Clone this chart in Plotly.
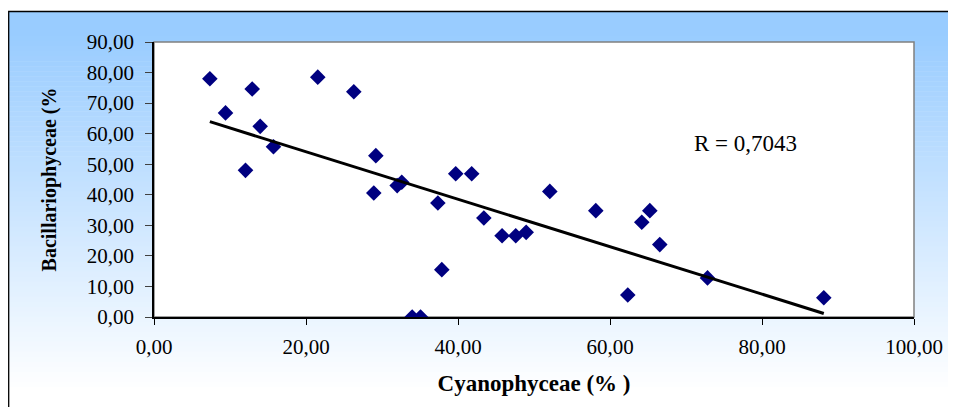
import numpy as np
import plotly.graph_objects as go

# ---- data ----
cyanophyceae = [7.35, 9.41, 12.92, 12.04, 13.97, 15.72, 21.55, 26.29, 29.19, 28.92,
                32.0, 32.6, 33.97, 35.07, 37.35, 37.87, 39.7, 41.8, 43.4, 45.8,
                47.6, 48.97, 52.08, 58.13, 64.18, 65.24, 66.55, 62.34, 72.83, 88.13]
bacillariophyceae = [77.95, 66.8, 74.6, 48.0, 62.4, 55.7, 78.5, 73.7, 52.8, 40.6,
                     43.0, 44.1, 0.0, 0.0, 37.3, 15.5, 46.9, 46.9, 32.4, 26.6,
                     26.6, 27.7, 41.1, 34.8, 31.0, 34.8, 23.7, 7.2, 12.8, 6.3]

x_tickvals = [0, 20, 40, 60, 80, 100]
x_ticktext = ["0,00", "20,00", "40,00", "60,00", "80,00", "100,00"]
y_tickvals = [0, 10, 20, 30, 40, 50, 60, 70, 80, 90]
y_ticktext = ["0,00", "10,00", "20,00", "30,00", "40,00", "50,00", "60,00", "70,00", "80,00", "90,00"]

r_label = "R = 0,7043"
x_title = "Cyanophyceae (% )"
y_title = "Bacillariophyceae (%"

# ---- layout geometry (page has an 8px body margin) ----
W, H = 948, 399
L, R, T, B = 146, 42, 34, 90
pw, ph = W - L - R, H - T - B

def px_to_paper_x(px):
    return (px - L) / pw

def py_to_paper_y(py):
    return (H - B - py) / ph

# linear trend line through the points
slope, intercept = np.polyfit(cyanophyceae, bacillariophyceae, 1)
xs = np.array([min(cyanophyceae), max(cyanophyceae)])
ys = slope * xs + intercept

fig = go.Figure()
fig.add_trace(go.Scatter(
    x=cyanophyceae, y=bacillariophyceae, mode="markers",
    marker=dict(symbol="diamond", size=12, color="#000080", line=dict(width=0)),
    showlegend=False, hoverinfo="x+y"))
fig.add_trace(go.Scatter(
    x=xs, y=ys, mode="lines", line=dict(color="black", width=3),
    showlegend=False, hoverinfo="skip"))

# ---- background gradient (bands) ----
shapes = []
top_c = np.array([153, 204, 255])
bot_c = np.array([255, 255, 255])
n = 80
y_start, y_end = 3, 404
for i in range(n):
    a = y_start + (y_end - y_start) * i / n
    b = y_start + (y_end - y_start) * (i + 1) / n
    mid = (a + b) / 2
    t = min(max((mid - 27) / (382 - 27), 0), 1)
    c = top_c + (bot_c - top_c) * t
    col = "rgb(%d,%d,%d)" % tuple(np.round(c).astype(int))
    shapes.append(dict(type="rect", xref="paper", yref="paper",
                       x0=px_to_paper_x(0), x1=px_to_paper_x(970),
                       y0=py_to_paper_y(b + 0.5), y1=py_to_paper_y(a),
                       fillcolor=col, line=dict(width=0), layer="below"))
# outer chart border
shapes.append(dict(type="rect", xref="paper", yref="paper",
                   x0=px_to_paper_x(0.7), x1=px_to_paper_x(990),
                   y0=py_to_paper_y(440), y1=py_to_paper_y(3.5),
                   fillcolor="rgba(0,0,0,0)", line=dict(color="black", width=1.3),
                   layer="below"))
# plot area (white with grey frame)
shapes.append(dict(type="rect", xref="paper", yref="paper",
                   x0=0, x1=1, y0=0, y1=1,
                   fillcolor="white", line=dict(color="#808080", width=1.5),
                   layer="below"))

fig.update_layout(
    width=W, height=H,
    margin=dict(l=L, r=R, t=T, b=B, pad=0),
    paper_bgcolor="white", plot_bgcolor="white",
    font=dict(family="Liberation Serif, Times New Roman, serif", color="black", size=21),
    shapes=shapes,
    showlegend=False,
    annotations=[dict(x=77.8, y=56.8, xref="x", yref="y", text=r_label,
                      showarrow=False, font=dict(size=23, color="black"),
                      xanchor="center", yanchor="middle")],
)
fig.update_xaxes(range=[0, 100], tickvals=x_tickvals, ticktext=x_ticktext,
                 showgrid=False, zeroline=False, showline=True, linecolor="black",
                 linewidth=1.5, ticks="outside", ticklen=6, tickcolor="black",
                 tickwidth=1.3, ticklabelstandoff=4, tickfont=dict(size=21),
                 title=dict(text="<b>%s</b>" % x_title, font=dict(size=23), standoff=17))
fig.update_yaxes(range=[0, 90], tickvals=y_tickvals, ticktext=y_ticktext,
                 showgrid=False, zeroline=False, showline=True, linecolor="black",
                 linewidth=1.5, ticks="outside", ticklen=7, tickcolor="#404040",
                 tickwidth=1.3, ticklabelstandoff=7, tickfont=dict(size=21),
                 title=dict(text="<b>%s</b>" % y_title, font=dict(size=20), standoff=25))

fig.write_html("out.html")
